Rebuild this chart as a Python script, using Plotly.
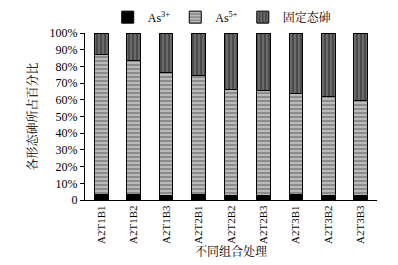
import plotly.graph_objects as go

categories = ["A2T1B1", "A2T1B2", "A2T1B3", "A2T2B1", "A2T2B2", "A2T2B3", "A2T3B1", "A2T3B2", "A2T3B3"]
as3 = [3.5, 3.0, 2.5, 3.0, 2.5, 2.5, 3.0, 2.5, 2.5]
as5_top = [87.2, 83.6, 76.5, 74.7, 66.3, 65.5, 63.9, 62.1, 59.5]
as5 = [t - a for t, a in zip(as5_top, as3)]
fixed = [100 - t for t in as5_top]
tick_vals = [0, 10, 20, 30, 40, 50, 60, 70, 80, 90, 100]
tick_text = ["0", "10%", "20%", "30%", "40%", "50%", "60%", "70%", "80%", "90%", "100%"]

font_fam = "Liberation Serif, Noto Serif CJK SC, Noto Sans CJK SC, serif"

fig = go.Figure()
fig.add_trace(go.Bar(
    x=categories, y=as3, name="As<sup>3+</sup>",
    marker=dict(color="black", line=dict(color="black", width=1)),
))
fig.add_trace(go.Bar(
    x=categories, y=as5, name="As<sup>5+</sup>",
    marker=dict(color="#8c8c8c", line=dict(color="black", width=1),
                pattern=dict(shape="-", bgcolor="#8c8c8c", fgcolor="white", size=4, solidity=0.4)),
))
fig.add_trace(go.Bar(
    x=categories, y=fixed, name="固定态砷",
    marker=dict(color="#4a4a4a", line=dict(color="black", width=1),
                pattern=dict(shape="|", bgcolor="#4a4a4a", fgcolor="#b5b5b5", size=4, solidity=0.3)),
))

fig.update_layout(
    barmode="stack",
    bargap=0.58,
    width=390, height=257,
    margin=dict(l=77, r=21, t=25, b=65, autoexpand=False),
    paper_bgcolor="white", plot_bgcolor="white",
    font=dict(family=font_fam, size=12, color="black"),
    legend=dict(orientation="h", x=0.47, xanchor="center", y=1.095, yanchor="middle",
                font=dict(size=12), itemwidth=30,
                traceorder="normal", bgcolor="rgba(0,0,0,0)"),
    showlegend=True,
    annotations=[dict(text="不同组合处理", x=0.5, y=-0.31, xref="paper", yref="paper",
                      xanchor="center", yanchor="middle", showarrow=False,
                      font=dict(size=12))],
)
fig.update_xaxes(
    showline=True, linecolor="black", linewidth=1, tickangle=-90,
    ticks="", tickfont=dict(size=11),
)
fig.update_yaxes(
    range=[0, 100], tickvals=tick_vals, ticktext=tick_text,
    showline=True, linecolor="black", linewidth=1,
    ticks="outside", ticklen=4, tickcolor="black", showgrid=False, zeroline=False,
    tickfont=dict(size=12),
    title=dict(text="各形态砷所占百分比", font=dict(size=12), standoff=9),
)

fig.write_html("out.html")
